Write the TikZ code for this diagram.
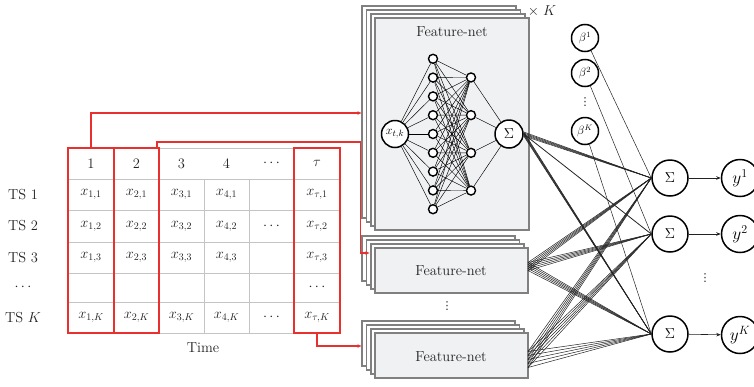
\documentclass[tikz,border=0pt]{standalone}
\usepackage{fontspec}
\newfontfamily\symfont{DejaVu Sans}
\usetikzlibrary{arrows.meta,calc}
\definecolor{redbox}{HTML}{E8312F}
\definecolor{panelfill}{HTML}{F0F1F3}
\definecolor{panelline}{HTML}{808080}
\definecolor{gridgray}{HTML}{C4C4C4}
\definecolor{ink}{HTML}{222222}
\begin{document}
\begin{tikzpicture}[x=1pt,y=-1pt,
  txt/.style={font=\fontsize{14.5}{16}\selectfont, text=ink, inner sep=0pt},
  cell/.style={txt},
  grid/.style={draw=gridgray, line width=0.8pt},
  redcol/.style={draw=redbox, line width=1.6pt, minimum width=45.5pt, inner sep=0pt, outer sep=0pt},
  redarrow/.style={draw=redbox, line width=1.1pt, -{Latex[length=4.5pt,width=4pt]}},
  backpanel/.style={draw=panelline, fill=white, line width=1.8pt},
  frontpanel/.style={draw=panelline, fill=panelfill, line width=1.8pt, anchor=north west, inner sep=0pt, outer sep=0pt},
  paneltitle/.style={font=\fontsize{14.5}{16}\selectfont, text=ink},
  hid/.style={circle, draw=black, fill=white, line width=1.4pt, minimum size=9pt, inner sep=0pt},
  inp/.style={circle, draw=black, fill=white, line width=1.5pt, minimum size=27pt, inner sep=0pt, font=\fontsize{12.5}{14}\selectfont},
  sumnode/.style={circle, draw=black, fill=white, line width=1.5pt, minimum size=28pt, inner sep=0pt, font=\fontsize{15}{17}\selectfont},
  bignode/.style={circle, draw=black, fill=white, line width=1.5pt, minimum size=36pt, inner sep=0pt, font=\fontsize{15}{17}\selectfont},
  betanode/.style={circle, draw=black, fill=white, line width=1.5pt, minimum size=27pt, inner sep=0pt, font=\fontsize{12}{14}\selectfont},
  ynode/.style={circle, draw=black, fill=white, line width=1.5pt, minimum size=37pt, inner sep=0pt, font=\fontsize{17}{19}\selectfont},
  nnedge/.style={draw=black, line width=0.45pt},
  outline/.style={draw=ink, line width=0.5pt},
  yarrow/.style={draw=ink, line width=0.6pt, -{Stealth[length=4.5pt,width=3.5pt]}},
  vdotsnode/.style={font=\symfont\fontsize{11}{12}\selectfont, text=ink, inner sep=0pt}
]
\useasboundingbox (0,0) rectangle (754,386);

% ---------------- data table ----------------
\draw[grid] (68,148) rectangle (340,333);
\foreach \yy in {179,210,242,273,302} \draw[grid] (68,\yy) -- (340,\yy);
\foreach \xx in {114,159,204,249,294} \draw[grid] (\xx,179) -- (\xx,333);

% header row
\foreach \c/\xx/\lab in {1/91/1, 2/136.5/2, 3/181.5/3, 4/226.5/4, 5/271.5/$\cdots$, 6/317/$\tau$}
  \node[cell] (hd\c) at (\xx,163.5) {\lab};

% row labels
\foreach \r/\yy/\lab in {1/194.5/TS 1, 2/226/TS 2, 3/257.5/TS 3, 4/287.5/$\cdots$, 5/317.5/TS $K$}
  \node[txt] (ts\r) at (23,\yy) {\lab};

% cells
\foreach \c/\xx in {1/91, 2/136.5, 3/181.5, 4/226.5} {
  \node[cell] (c\c-1) at (\xx,194.5) {$x_{\c,1}$};
  \node[cell] (c\c-2) at (\xx,226) {$x_{\c,2}$};
  \node[cell] (c\c-3) at (\xx,257.5) {$x_{\c,3}$};
  \node[cell] (c\c-K) at (\xx,317.5) {$x_{\c,K}$};
}
\node[cell] (c5-2) at (271.5,226) {$\cdots$};
\node[cell] (c5-K) at (271.5,317.5) {$\cdots$};
\node[cell] (c6-1) at (317,194.5) {$x_{\tau,1}$};
\node[cell] (c6-2) at (317,226) {$x_{\tau,2}$};
\node[cell] (c6-3) at (317,257.5) {$x_{\tau,3}$};
\node[cell] (c6-4) at (317,287.5) {$\cdots$};
\node[cell] (c6-K) at (317,317.5) {$x_{\tau,K}$};

\node[txt] (timelab) at (203,348) {Time};

% highlighted time columns
\node[redcol, minimum height=185pt] (col1) at (91,240.5) {};
\node[redcol, minimum height=185pt] (col2) at (136.5,240.5) {};
\node[redcol, minimum height=185pt] (colt) at (317,240.5) {};

% ---------------- feature-net stacks ----------------
% stack 1 (expanded)
\foreach \i in {3,2,1}
  \draw[backpanel] ({375-4.3*\i},{18-4*\i}) rectangle ++(154,212);
\node[frontpanel, minimum width=154pt, minimum height=212pt] (f1) at (375,18) {};
\node[paneltitle] (f1t) at (452,32) {Feature-net};
\node[font=\fontsize{15}{17}\selectfont, text=ink, inner sep=0pt] (timesK) at (542,11) {$\times\; K$};

% stack 2
\foreach \i in {3,2,1}
  \draw[backpanel] ({375-4.3*\i},{248-4*\i}) rectangle ++(153,45);
\node[frontpanel, minimum width=153pt, minimum height=45pt] (f2) at (375,248) {};
\node[paneltitle] (f2t) at (451,271) {Feature-net};

\node[vdotsnode] (stackdots) at (447,306) {⋮};

% stack 3
\foreach \i in {3,2,1}
  \draw[backpanel] ({375-4.3*\i},{333-4*\i}) rectangle ++(153,45);
\node[frontpanel, minimum width=153pt, minimum height=45pt] (f3) at (375,333) {};
\node[paneltitle] (f3t) at (451,357) {Feature-net};

% ---------------- network inside stack 1 ----------------
\node[inp] (xin) at (395,134) {$x_{t,k}$};
\foreach \j in {0,...,8} \node[hid] (h\j) at (433,{134+18.8*(\j-4)}) {};
\foreach \k in {0,...,3} \node[hid] (g\k) at (471,{134+37.7*(\k-1.5)}) {};
\node[sumnode] (s0) at (509,134) {$\Sigma$};
\foreach \j in {0,...,8} {
  \draw[nnedge] (xin) -- (h\j);
  \foreach \k in {0,...,3} \draw[nnedge] (h\j) -- (g\k);
}
\foreach \k in {0,...,3} \draw[nnedge] (g\k) -- (s0);

% ---------------- red feed arrows ----------------
\coordinate (in1) at (362,113);
\coordinate (a2s) at (157,148);
\coordinate (bend2) at (360.5,142);
\coordinate (in2) at (370,253);
\coordinate (in3) at (362,346);
\draw[redarrow] (col1.north) |- (in1);
\draw[redarrow] (a2s) |- (bend2) |- (in2);
\draw[redarrow] (colt.south) |- (in3);

% ---------------- output side ----------------
\node[betanode] (b1) at (585,38) {$\beta^1$};
\node[betanode] (b2) at (585,73) {$\beta^2$};
\node[vdotsnode] (bdots) at (585,102) {⋮};
\node[betanode] (bK) at (585,131) {$\beta^K$};

\node[bignode] (S1) at (670,178) {$\Sigma$};
\node[bignode] (S2) at (670,234) {$\Sigma$};
\node[bignode] (S3) at (670,334) {$\Sigma$};

\node[ynode] (y1) at (740,178) {$y^1$};
\node[ynode] (y2) at (740,234) {$y^2$};
\node[vdotsnode] (ydots) at (705,278) {⋮};
\node[ynode] (yK) at (740,335) {$y^K$};

\draw[yarrow] (S1) -- (y1);
\draw[yarrow] (S2) -- (y2);
\draw[yarrow] (S3) -- (yK);

\draw[outline] (b1) -- (S1.west);
\draw[outline] (b2) -- (S2.west);
\draw[outline] (bK) -- (S3.west);

% stack 1 outputs
\foreach \d in {-2,-1,0,1,2} {
  \draw[outline] ($(s0.east)+(0,\d)$) -- (S1.west);
  \draw[outline] ($(s0.east)+(0,\d)$) -- (S3.west);
}
\draw[outline, line width=0.8pt] (s0.east) -- (S2.west);

% stack 2 outputs
\foreach \i in {0,...,4}
  \foreach \t in {S1,S2,S3}
    \draw[outline] ($(f2.east)+(0,-2*\i)$) -- (\t.west);

% stack 3 outputs
\foreach \i in {0,...,4}
  \foreach \t in {S1,S2,S3}
    \draw[outline] ($(f3.east)+(0,-4+4*\i)$) -- (\t.west);
\end{tikzpicture}
\end{document}
